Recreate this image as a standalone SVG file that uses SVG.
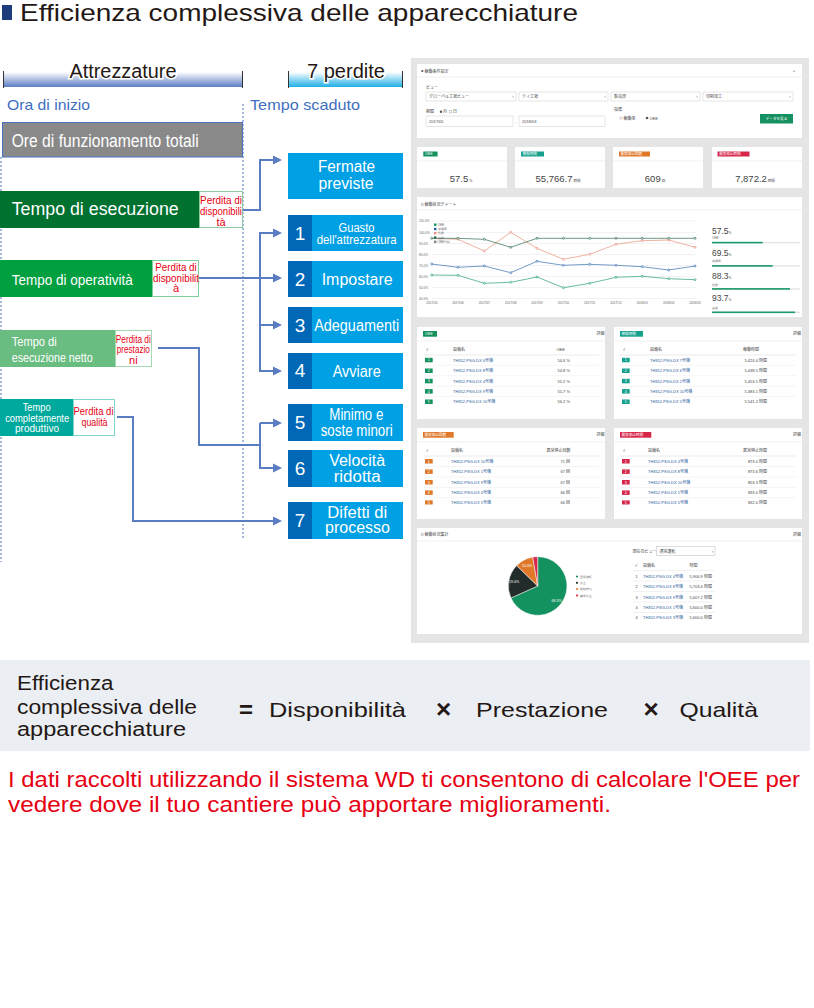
<svg xmlns="http://www.w3.org/2000/svg" width="814" height="1008" viewBox="0 0 814 1008">
<defs>
<linearGradient id="gA" x1="0" y1="0" x2="0" y2="1"><stop offset="0" stop-color="#ffffff"/><stop offset="1" stop-color="#5b7cc4"/></linearGradient>
<linearGradient id="gP" x1="0" y1="0" x2="0" y2="1"><stop offset="0" stop-color="#ffffff"/><stop offset="1" stop-color="#1eaee6"/></linearGradient>
<marker id="arr" markerWidth="10" markerHeight="10" refX="1" refY="5" orient="auto" markerUnits="userSpaceOnUse"><path d="M0,0.5 L9,5 L0,9.5 z" fill="#5a7cc0"/></marker>
<clipPath id="clipO"><rect x="417" y="428" width="188" height="76.5"/></clipPath>
<clipPath id="clipR"><rect x="614" y="428" width="188" height="76.5"/></clipPath>
<style>
.f{font-family:"Liberation Sans",Arial,sans-serif}
.w{fill:#ffffff}
.red{fill:#e60012}
.lb{font-family:"Liberation Sans",Arial,sans-serif;fill:#ffffff;text-anchor:middle}
.pl{font-family:"Liberation Sans",Arial,sans-serif;fill:#e60012;text-anchor:middle;font-size:11px}
.con{fill:none;stroke:#5a7cc0;stroke-width:2}
.dash{stroke:#4a72c0;stroke-width:1;stroke-dasharray:2,2;fill:none}
.lossA{fill:#00a0e4}
.lossN{fill:#0068b7}
.d{font-family:"Liberation Sans","Noto Sans CJK JP",sans-serif;font-size:4px;fill:#444}
.dn{font-family:"Liberation Sans","Noto Sans CJK JP",sans-serif;font-size:4px;fill:#2a5a9a}
.card{fill:#ffffff}
.sep{stroke:#e6e6e6;stroke-width:0.6}
.bw{font-family:"Liberation Sans","Noto Sans CJK JP",sans-serif;font-size:3.6px;fill:#ffffff}
.grid{stroke:#e4e4e4;stroke-width:0.5}
.ax{font-family:"Liberation Sans",sans-serif;font-size:3.2px;fill:#666}
</style>
</defs>
<rect width="814" height="1008" fill="#ffffff"/>

<g id="title">
<rect x="2" y="5" width="10" height="15" fill="#1d3c7c"/>
<text class="f" x="20" y="21" font-size="24" fill="#231815" textLength="558" lengthAdjust="spacingAndGlyphs">Efficienza complessiva delle apparecchiature</text>
</g>

<g id="header-attrezzature">
<rect x="3" y="72" width="240" height="15" fill="url(#gA)"/>
<path d="M3.5,71 V88 M242.5,71 V88" stroke="#333" stroke-width="1"/>
<text class="f" x="123" y="78" font-size="20" text-anchor="middle" fill="#231815" stroke="#ffffff" stroke-width="3" paint-order="stroke" textLength="107" lengthAdjust="spacingAndGlyphs">Attrezzature</text>
</g>
<g id="header-perdite">
<rect x="288" y="72" width="115" height="15" fill="url(#gP)"/>
<path d="M288.5,71 V88 M402.5,71 V88" stroke="#333" stroke-width="1"/>
<text class="f" x="346" y="78" font-size="20" text-anchor="middle" fill="#231815" stroke="#ffffff" stroke-width="3" paint-order="stroke" textLength="78" lengthAdjust="spacingAndGlyphs">7 perdite</text>
</g>

<g id="time-labels">
<text class="f" x="7" y="110" font-size="15" fill="#3f6fbf" textLength="83" lengthAdjust="spacingAndGlyphs">Ora di inizio</text>
<text class="f" x="250" y="110" font-size="15" fill="#3f6fbf" textLength="110" lengthAdjust="spacingAndGlyphs">Tempo scaduto</text>
<path class="dash" d="M243,104 V540"/>
<path class="dash" d="M1,157 V562"/>
</g>

<g id="ore-totali">
<rect x="2.5" y="122.5" width="240" height="34.5" fill="#898989" stroke="#4a72c0" stroke-width="1"/>
<text class="f w" x="11.7" y="146.5" font-size="18" textLength="187" lengthAdjust="spacingAndGlyphs">Ore di funzionamento totali</text>
</g>

<g id="tempo-esecuzione">
<rect x="0" y="191" width="199" height="37" fill="#00712f"/>
<text class="f w" x="11.7" y="215" font-size="18" textLength="167" lengthAdjust="spacingAndGlyphs">Tempo di esecuzione</text>
<rect x="199.5" y="191.5" width="43" height="36" fill="#ffffff" stroke="#8fc9a0" stroke-width="1"/>
<text class="pl" x="221" y="203.5" textLength="42" lengthAdjust="spacingAndGlyphs">Perdita di</text>
<text class="pl" x="221" y="214.5" textLength="42" lengthAdjust="spacingAndGlyphs">disponibili</text>
<text class="pl" x="221" y="225.5">tà</text>
</g>

<g id="tempo-operativita">
<rect x="0" y="260" width="152" height="37" fill="#00a040"/>
<text class="f w" x="11.7" y="284.5" font-size="15" textLength="121" lengthAdjust="spacingAndGlyphs">Tempo di operatività</text>
<rect x="152.5" y="260.5" width="46" height="36" fill="#ffffff" stroke="#7fcf9a" stroke-width="1"/>
<text class="pl" x="176" y="270.5" textLength="41.5" lengthAdjust="spacingAndGlyphs">Perdita di</text>
<text class="pl" x="176" y="281.5" textLength="46" lengthAdjust="spacingAndGlyphs">disponibilit</text>
<text class="pl" x="176" y="292">à</text>
</g>

<g id="tempo-netto">
<rect x="0" y="330" width="115" height="37" fill="#6abd80"/>
<text class="f w" x="11.7" y="345.5" font-size="13" textLength="45" lengthAdjust="spacingAndGlyphs">Tempo di</text>
<text class="f w" x="11.7" y="361.5" font-size="13" textLength="81" lengthAdjust="spacingAndGlyphs">esecuzione netto</text>
<rect x="115.5" y="330.5" width="36" height="36" fill="#ffffff" stroke="#a5d8b2" stroke-width="1"/>
<text class="pl" x="133.3" y="342.5" textLength="35" lengthAdjust="spacingAndGlyphs">Perdita di</text>
<text class="pl" x="133.3" y="353.3" textLength="33" lengthAdjust="spacingAndGlyphs">prestazio</text>
<text class="pl" x="133.3" y="363.5">ni</text>
</g>

<g id="tempo-produttivo">
<rect x="0" y="399" width="73" height="37" fill="#00a99d"/>
<text class="lb" x="36.7" y="411" font-size="11" textLength="28" lengthAdjust="spacingAndGlyphs">Tempo</text>
<text class="lb" x="37.2" y="421.7" font-size="11" textLength="64" lengthAdjust="spacingAndGlyphs">completamente</text>
<text class="lb" x="37" y="432.3" font-size="11" textLength="44" lengthAdjust="spacingAndGlyphs">produttivo</text>
<rect x="73.5" y="399.5" width="41" height="36" fill="#ffffff" stroke="#7fd4ce" stroke-width="1"/>
<text class="pl" x="93.5" y="415" font-size="12" textLength="40" lengthAdjust="spacingAndGlyphs">Perdita di</text>
<text class="pl" x="94.5" y="426" font-size="12" textLength="26" lengthAdjust="spacingAndGlyphs">qualità</text>
</g>

<g id="loss-fermate">
<rect class="lossA" x="288" y="153" width="115" height="46"/>
<text class="lb" x="346.5" y="172" font-size="16" textLength="57" lengthAdjust="spacingAndGlyphs">Fermate</text>
<text class="lb" x="346" y="188.5" font-size="16" textLength="55" lengthAdjust="spacingAndGlyphs">previste</text>
</g>
<g id="loss-1">
<rect class="lossA" x="288" y="215" width="115" height="36"/>
<rect class="lossN" x="288" y="215" width="24" height="36"/>
<text class="lb" x="300" y="240" font-size="19">1</text>
<text class="lb" x="356.5" y="231.5" font-size="12.5" textLength="36" lengthAdjust="spacingAndGlyphs">Guasto</text>
<text class="lb" x="356.7" y="244.3" font-size="12.5" textLength="80" lengthAdjust="spacingAndGlyphs">dell'attrezzatura</text>
</g>
<g id="loss-2">
<rect class="lossA" x="288" y="261" width="115" height="36"/>
<rect class="lossN" x="288" y="261" width="24" height="36"/>
<text class="lb" x="300" y="285.5" font-size="19">2</text>
<text class="lb" x="357.2" y="285" font-size="16" textLength="71" lengthAdjust="spacingAndGlyphs">Impostare</text>
</g>
<g id="loss-3">
<rect class="lossA" x="288" y="307" width="115" height="36"/>
<rect class="lossN" x="288" y="307" width="24" height="36"/>
<text class="lb" x="300" y="331.5" font-size="19">3</text>
<text class="lb" x="356.7" y="331" font-size="16" textLength="85" lengthAdjust="spacingAndGlyphs">Adeguamenti</text>
</g>
<g id="loss-4">
<rect class="lossA" x="288" y="353" width="115" height="36"/>
<rect class="lossN" x="288" y="353" width="24" height="36"/>
<text class="lb" x="300" y="377" font-size="19">4</text>
<text class="lb" x="356.7" y="377" font-size="16" textLength="48" lengthAdjust="spacingAndGlyphs">Avviare</text>
</g>
<g id="loss-5">
<rect class="lossA" x="288" y="404" width="115" height="37"/>
<rect class="lossN" x="288" y="404" width="24" height="37"/>
<text class="lb" x="300" y="429" font-size="19">5</text>
<text class="lb" x="356.3" y="420" font-size="16" textLength="54" lengthAdjust="spacingAndGlyphs">Minimo e</text>
<text class="lb" x="356.7" y="435.7" font-size="16" textLength="72" lengthAdjust="spacingAndGlyphs">soste minori</text>
</g>
<g id="loss-6">
<rect class="lossA" x="288" y="450" width="115" height="37"/>
<rect class="lossN" x="288" y="450" width="24" height="37"/>
<text class="lb" x="300" y="475" font-size="19">6</text>
<text class="lb" x="357.2" y="466" font-size="16" textLength="56" lengthAdjust="spacingAndGlyphs">Velocità</text>
<text class="lb" x="357.2" y="481.7" font-size="16" textLength="47" lengthAdjust="spacingAndGlyphs">ridotta</text>
</g>
<g id="loss-7">
<rect class="lossA" x="288" y="502" width="115" height="37"/>
<rect class="lossN" x="288" y="502" width="24" height="37"/>
<text class="lb" x="300" y="527" font-size="19">7</text>
<text class="lb" x="357.3" y="518.3" font-size="16" textLength="60" lengthAdjust="spacingAndGlyphs">Difetti di</text>
<text class="lb" x="357.5" y="533.3" font-size="16" textLength="65" lengthAdjust="spacingAndGlyphs">processo</text>
</g>

<g id="connectors">
<path class="con" d="M243,210 H260 V160 H274" marker-end="url(#arr)"/>
<path class="con" d="M199,278 H274" marker-end="url(#arr)"/>
<path class="con" d="M274,233 H260 V371 H274" marker-end="url(#arr)"/>
<path class="con" d="M260,233 H274" marker-end="url(#arr)"/>
<path class="con" d="M260,325 H274" marker-end="url(#arr)"/>
<path class="con" d="M158,348 H199 V445 H260"/>
<path class="con" d="M260,423 V468 H274" marker-end="url(#arr)"/>
<path class="con" d="M260,423 H274" marker-end="url(#arr)"/>
<path class="con" d="M117,417 H133 V521 H274" marker-end="url(#arr)"/>
</g>

<g id="dashboard">
<rect x="411" y="58" width="398" height="585" fill="#e5e5e5"/>
<rect class="card" x="417" y="64" width="385" height="74"/>
<circle cx="422.3" cy="71" r="1.1" fill="#555"/>
<text class="d" x="424.5" y="72.5" font-size="3.8">稼働条件設定</text>
<text class="d" x="793" y="72.5" font-size="3.8">^</text>
<line class="sep" x1="417" y1="77" x2="802" y2="77"/>
<text class="d" x="426" y="88.5" font-size="3.6">ビュー</text>
<g fill="#ffffff" stroke="#cccccc" stroke-width="0.5">
<rect x="426" y="92" width="90" height="9"/><rect x="519" y="92" width="89" height="9"/><rect x="611" y="92" width="89" height="9"/><rect x="703" y="92" width="90" height="9"/>
<rect x="426" y="116" width="87" height="10.5"/><rect x="519" y="116" width="86" height="10.5"/>
</g>
<text class="d" x="429" y="98">グローバル工場ビュー</text>
<text class="d" x="522" y="98">テイ工場</text>
<text class="d" x="614" y="98">製造部</text>
<text class="d" x="706" y="98">切削加工</text>
<text class="d" x="512" y="98">↕</text><text class="d" x="604" y="98">↕</text><text class="d" x="696" y="98">↕</text><text class="d" x="789" y="98">↕</text>
<text class="d" x="426" y="113" font-size="3.6">期間</text>
<circle cx="441" cy="111.8" r="1.2" fill="#555"/><text class="d" x="443" y="113" font-size="3.6">月</text>
<rect x="449.5" y="110.6" width="2.4" height="2.4" fill="none" stroke="#777" stroke-width="0.3"/><text class="d" x="453" y="113" font-size="3.6">日</text>
<text class="d" x="429" y="123">2017/05</text>
<text class="d" x="515" y="123">-</text>
<text class="d" x="522" y="123">2018/03</text>
<text class="d" x="614" y="110.5" font-size="3.6">指標</text>
<circle cx="621" cy="118" r="1.3" fill="none" stroke="#777" stroke-width="0.3"/><text class="d" x="623.5" y="119.5" font-size="3.6">稼働率</text>
<circle cx="647" cy="118" r="1.3" fill="#555"/><text class="d" x="649.5" y="119.5" font-size="3.6">OEE</text>
<rect x="760" y="114" width="33" height="9.5" fill="#159060"/>
<text class="bw" x="776.5" y="120" text-anchor="middle">データを見る</text>

<rect class="card" x="417" y="147" width="90" height="41"/>
<rect class="card" x="515" y="147" width="90" height="41"/>
<rect class="card" x="613" y="147" width="90" height="41"/>
<rect class="card" x="712" y="147" width="90" height="41"/>
<rect x="423.3" y="151.5" width="14.3" height="5" fill="#13925f"/><text class="bw" x="425" y="155.3">OEE</text>
<rect x="521" y="151.5" width="23" height="5" fill="#16a08e"/><text class="bw" x="522.5" y="155.3">稼働時間</text>
<rect x="619" y="151.5" width="31" height="5" fill="#e0782a"/><text class="bw" x="620.5" y="155.3">異常停止回数</text>
<rect x="717.5" y="151.5" width="32" height="5" fill="#d6264a"/><text class="bw" x="719" y="155.3">異常停止時間</text>
<line class="sep" x1="417" y1="161" x2="507" y2="161"/><line class="sep" x1="515" y1="161" x2="605" y2="161"/><line class="sep" x1="613" y1="161" x2="703" y2="161"/><line class="sep" x1="712" y1="161" x2="802" y2="161"/>
<g font-family="Liberation Sans, Noto Sans CJK JP, sans-serif" fill="#444" text-anchor="middle">
<text x="461" y="181.5" font-size="9.5">57.5<tspan font-size="3.5"> %</tspan></text>
<text x="558" y="181.5" font-size="9.5">55,766.7<tspan font-size="3.5"> 時間</tspan></text>
<text x="655" y="181.5" font-size="9.5">609<tspan font-size="3.5"> 回</tspan></text>
<text x="755" y="181.5" font-size="9.5">7,872.2<tspan font-size="3.5"> 時間</tspan></text>
</g>

<rect class="card" x="417" y="197" width="385" height="120"/>
<circle cx="422.3" cy="204.5" r="1.1" fill="none" stroke="#555" stroke-width="0.4"/>
<text class="d" x="424.5" y="206" font-size="3.8">稼働状況チャート</text>
<line class="sep" x1="417" y1="210" x2="802" y2="210"/>
<g>
<line class="grid" x1="432" y1="221" x2="696" y2="221"/><line class="grid" x1="432" y1="232.5" x2="696" y2="232.5"/><line class="grid" x1="432" y1="243.5" x2="696" y2="243.5"/><line class="grid" x1="432" y1="254.5" x2="696" y2="254.5"/><line class="grid" x1="432" y1="265.5" x2="696" y2="265.5"/><line class="grid" x1="432" y1="276.5" x2="696" y2="276.5"/><line class="grid" x1="432" y1="287.5" x2="696" y2="287.5"/><line class="grid" x1="432" y1="298.5" x2="696" y2="298.5"/>
</g>
<g class="ax">
<text x="419" y="222">110.0%</text><text x="419" y="233.5">100.0%</text><text x="419" y="244.5">90.0%</text><text x="419" y="255.5">80.0%</text><text x="419" y="266.5">70.0%</text><text x="419" y="277.5">60.0%</text><text x="419" y="288.5">50.0%</text><text x="419" y="299.5">40.0%</text>
</g>
<g class="ax" text-anchor="middle">
<text x="432" y="303.5">2017/05</text><text x="458" y="303.5">2017/06</text><text x="484.4" y="303.5">2017/07</text><text x="510.7" y="303.5">2017/08</text><text x="537" y="303.5">2017/09</text><text x="563.4" y="303.5">2017/10</text><text x="589.7" y="303.5">2017/11</text><text x="616" y="303.5">2017/12</text><text x="642.3" y="303.5">2018/01</text><text x="668.7" y="303.5">2018/02</text><text x="695" y="303.5">2018/03</text>
</g>
<g fill="#ffffff" stroke-width="0.7">
<polyline fill="none" stroke="#e8907a" points="431.7,238.3 458,239.3 484.4,251 510.7,232.3 537,248.3 563.4,259.3 589.7,254.3 616,244.3 642.3,240.7 668.7,240 695,247.3"/>
<polyline fill="none" stroke="#2e6e52" points="431.7,238.3 458,238.3 484.4,239.3 510.7,247.3 537,238.3 563.4,238.3 589.7,238.3 616,238.3 642.3,238.3 668.7,238.3 695,238.3"/>
<polyline fill="none" stroke="#3a70b0" points="431.7,264 458,267.3 484.4,266 510.7,272.7 537,261.3 563.4,265.3 589.7,264.3 616,265.3 642.3,266.7 668.7,270 695,266"/>
<polyline fill="none" stroke="#2aa070" points="431.7,275 458,275.3 484.4,283.3 510.7,282.3 537,277 563.4,287.7 589.7,283.3 616,277.3 642.3,276.3 668.7,278.7 695,279.7"/>
<g stroke="#e8907a"><circle cx="458" cy="239.3" r="1"/><circle cx="484.4" cy="251" r="1"/><circle cx="510.7" cy="232.3" r="1"/><circle cx="537" cy="248.3" r="1"/><circle cx="563.4" cy="259.3" r="1"/><circle cx="589.7" cy="254.3" r="1"/><circle cx="616" cy="244.3" r="1"/><circle cx="642.3" cy="240.7" r="1"/><circle cx="668.7" cy="240" r="1"/><circle cx="695" cy="247.3" r="1"/></g>
<g stroke="#2e6e52"><circle cx="431.7" cy="238.3" r="1"/><circle cx="458" cy="238.3" r="1"/><circle cx="484.4" cy="239.3" r="1"/><circle cx="510.7" cy="247.3" r="1"/><circle cx="537" cy="238.3" r="1"/><circle cx="563.4" cy="238.3" r="1"/><circle cx="589.7" cy="238.3" r="1"/><circle cx="616" cy="238.3" r="1"/><circle cx="642.3" cy="238.3" r="1"/><circle cx="668.7" cy="238.3" r="1"/><circle cx="695" cy="238.3" r="1"/></g>
<g stroke="#3a70b0"><circle cx="431.7" cy="264" r="1"/><circle cx="458" cy="267.3" r="1"/><circle cx="484.4" cy="266" r="1"/><circle cx="510.7" cy="272.7" r="1"/><circle cx="537" cy="261.3" r="1"/><circle cx="563.4" cy="265.3" r="1"/><circle cx="589.7" cy="264.3" r="1"/><circle cx="616" cy="265.3" r="1"/><circle cx="642.3" cy="266.7" r="1"/><circle cx="668.7" cy="270" r="1"/><circle cx="695" cy="266" r="1"/></g>
<g stroke="#2aa070"><circle cx="431.7" cy="275" r="1"/><circle cx="458" cy="275.3" r="1"/><circle cx="484.4" cy="283.3" r="1"/><circle cx="510.7" cy="282.3" r="1"/><circle cx="537" cy="277" r="1"/><circle cx="563.4" cy="287.7" r="1"/><circle cx="589.7" cy="283.3" r="1"/><circle cx="616" cy="277.3" r="1"/><circle cx="642.3" cy="276.3" r="1"/><circle cx="668.7" cy="278.7" r="1"/><circle cx="695" cy="279.7" r="1"/></g>
</g>
<g>
<rect x="434" y="223.5" width="2.4" height="2.4" fill="#13925f"/><text class="ax" x="437.5" y="225.8">OEE</text>
<rect x="434" y="227.8" width="2.4" height="2.4" fill="#2a60b0"/><text class="ax" x="437.5" y="230.1">稼働率</text>
<rect x="434" y="232" width="2.4" height="2.4" fill="#e8907a"/><text class="ax" x="437.5" y="234.3">性能</text>
<rect x="434" y="236.3" width="2.4" height="2.4" fill="#2e6e52"/><text class="ax" x="437.5" y="238.6">品質</text>
<rect x="434" y="240.6" width="2.4" height="2.4" fill="#888888"/><text class="ax" x="437.5" y="242.9">OEE目標</text>
</g>
<g font-family="Liberation Sans, Noto Sans CJK JP, sans-serif" fill="#444">
<text x="712" y="234.3" font-size="8.5">57.5<tspan font-size="3.2">%</tspan></text>
<text class="ax" x="712" y="239">OEE</text>
<text x="712" y="256.3" font-size="8.5">69.5<tspan font-size="3.2">%</tspan></text>
<text class="ax" x="712" y="262">稼働率</text>
<text x="712" y="278.5" font-size="8.5">88.3<tspan font-size="3.2">%</tspan></text>
<text class="ax" x="712" y="285.5">性能</text>
<text x="712" y="301" font-size="8.5">93.7<tspan font-size="3.2">%</tspan></text>
<text class="ax" x="712" y="308.7">品質</text>
</g>
<g>
<rect x="712" y="242" width="88" height="1.3" fill="#e2e2e2"/><rect x="712" y="241.8" width="50.7" height="1.6" fill="#1a9a68"/>
<rect x="712" y="265.3" width="88" height="1.3" fill="#e2e2e2"/><rect x="712" y="265.1" width="60.7" height="1.6" fill="#1a9a68"/>
<rect x="712" y="288.3" width="88" height="1.3" fill="#e2e2e2"/><rect x="712" y="288.1" width="78" height="1.6" fill="#1a9a68"/>
<rect x="712" y="311.7" width="88" height="1.3" fill="#e2e2e2"/><rect x="712" y="311.5" width="83" height="1.6" fill="#1a9a68"/>
</g>

<rect class="card" x="417" y="327" width="188" height="92"/>
<rect class="card" x="614" y="327" width="188" height="92"/>
<rect class="card" x="417" y="428" width="188" height="91"/>
<rect class="card" x="614" y="428" width="188" height="91"/>

<g id="tbl-oee">
<rect x="423" y="331" width="14" height="5.7" fill="#13925f"/><text class="bw" x="425" y="335.2">OEE</text>
<text class="d" x="596.5" y="335" font-size="3.6">詳細</text>
<line class="sep" x1="417" y1="341" x2="605" y2="341"/>
<text class="d" x="426" y="350.7" font-size="3.6">#</text><text class="d" x="453" y="350.7" font-size="3.6">設備名</text><text class="d" x="556.5" y="350.7" font-size="3.6">OEE</text>
<line x1="423" y1="355" x2="599" y2="355" stroke="#dddddd" stroke-width="0.6"/>
<g fill="#13925f"><rect x="425" y="357.8" width="7.7" height="4.5"/><rect x="425" y="368.5" width="7.7" height="4.5"/><rect x="425" y="378.8" width="7.7" height="4.5"/><rect x="425" y="389.1" width="7.7" height="4.5"/><rect x="425" y="399.5" width="7.7" height="4.5"/></g>
<g class="bw" text-anchor="middle" font-size="3.2"><text x="428.8" y="361.3">1</text><text x="428.8" y="372">2</text><text x="428.8" y="382.3">3</text><text x="428.8" y="392.6">4</text><text x="428.8" y="403">5</text></g>
<g stroke="#eeeeee" stroke-width="0.6"><line x1="423" y1="365.3" x2="599" y2="365.3"/><line x1="423" y1="375.7" x2="599" y2="375.7"/><line x1="423" y1="386.2" x2="599" y2="386.2"/><line x1="423" y1="396.6" x2="599" y2="396.6"/></g>
<text class="dn" x="453" y="361.5">TH352-PSG-DX 6号機</text><text class="dn" x="453" y="372.2">TH352-PSG-DX 8号機</text><text class="dn" x="453" y="382.5">TH352-PSG-DX 4号機</text><text class="dn" x="453" y="392.8">TH352-PSG-DX 9号機</text><text class="dn" x="453" y="403.2">TH352-PSG-DX 10号機</text>
<g class="d" text-anchor="end"><text x="570" y="361.5">54.6 %</text><text x="570" y="372.2">54.8 %</text><text x="570" y="382.5">55.2 %</text><text x="570" y="392.8">55.7 %</text><text x="570" y="403.2">56.2 %</text></g>
</g>

<g id="tbl-time">
<rect x="620" y="331" width="23" height="5.7" fill="#16a08e"/><text class="bw" x="621.5" y="335.2">稼働時間</text>
<text class="d" x="793" y="335" font-size="3.6">詳細</text>
<line class="sep" x1="614" y1="341" x2="802" y2="341"/>
<text class="d" x="623" y="350.7" font-size="3.6">#</text><text class="d" x="650" y="350.7" font-size="3.6">設備名</text><text class="d" x="743" y="350.7" font-size="3.6">稼働時間</text>
<line x1="620" y1="355" x2="796" y2="355" stroke="#dddddd" stroke-width="0.6"/>
<g fill="#16a08e"><rect x="622" y="357.8" width="7.7" height="4.5"/><rect x="622" y="368.5" width="7.7" height="4.5"/><rect x="622" y="378.8" width="7.7" height="4.5"/><rect x="622" y="389.1" width="7.7" height="4.5"/><rect x="622" y="399.5" width="7.7" height="4.5"/></g>
<g class="bw" text-anchor="middle" font-size="3.2"><text x="625.8" y="361.3">1</text><text x="625.8" y="372">2</text><text x="625.8" y="382.3">3</text><text x="625.8" y="392.6">4</text><text x="625.8" y="403">5</text></g>
<g stroke="#eeeeee" stroke-width="0.6"><line x1="620" y1="365.3" x2="796" y2="365.3"/><line x1="620" y1="375.7" x2="796" y2="375.7"/><line x1="620" y1="386.2" x2="796" y2="386.2"/><line x1="620" y1="396.6" x2="796" y2="396.6"/></g>
<text class="dn" x="650" y="361.5">TH352-PSG-DX 7号機</text><text class="dn" x="650" y="372.2">TH352-PSG-DX 6号機</text><text class="dn" x="650" y="382.5">TH352-PSG-DX 2号機</text><text class="dn" x="650" y="392.8">TH352-PSG-DX 10号機</text><text class="dn" x="650" y="403.2">TH352-PSG-DX 5号機</text>
<g class="d" text-anchor="end"><text x="767" y="361.5">5,424.4 時間</text><text x="767" y="372.2">5,438.5 時間</text><text x="767" y="382.5">5,453.5 時間</text><text x="767" y="392.8">5,483.1 時間</text><text x="767" y="403.2">5,541.2 時間</text></g>
</g>

<g id="tbl-count">
<rect x="423" y="432" width="30.7" height="5.7" fill="#e0782a"/><text class="bw" x="424.5" y="436.2">異常停止回数</text>
<text class="d" x="596.5" y="436" font-size="3.6">詳細</text>
<line class="sep" x1="417" y1="442" x2="605" y2="442"/>
<g clip-path="url(#clipO)">
<text class="d" x="426" y="451.5" font-size="3.6">#</text><text class="d" x="451" y="451.5" font-size="3.6">設備名</text><text class="d" x="546.5" y="451.5" font-size="3.6">異常停止回数</text>
<line x1="423" y1="456" x2="599" y2="456" stroke="#dddddd" stroke-width="0.6"/>
<g fill="#e0782a"><rect x="425" y="459" width="7.7" height="4.5"/><rect x="425" y="469.4" width="7.7" height="4.5"/><rect x="425" y="480" width="7.7" height="4.5"/><rect x="425" y="490.4" width="7.7" height="4.5"/><rect x="425" y="500.4" width="7.7" height="4.5"/></g>
<g class="bw" text-anchor="middle" font-size="3.2"><text x="428.8" y="462.5">1</text><text x="428.8" y="472.9">2</text><text x="428.8" y="483.5">3</text><text x="428.8" y="493.9">4</text><text x="428.8" y="503.9">5</text></g>
<g stroke="#eeeeee" stroke-width="0.6"><line x1="423" y1="466.5" x2="599" y2="466.5"/><line x1="423" y1="477" x2="599" y2="477"/><line x1="423" y1="487.5" x2="599" y2="487.5"/><line x1="423" y1="497.7" x2="599" y2="497.7"/></g>
<text class="dn" x="451" y="462.8">TH352-PSG-DX 10号機</text><text class="dn" x="451" y="473.2">TH352-PSG-DX 1号機</text><text class="dn" x="451" y="483.8">TH352-PSG-DX 9号機</text><text class="dn" x="451" y="494.2">TH352-PSG-DX 4号機</text><text class="dn" x="451" y="504.2">TH352-PSG-DX 5号機</text>
<g class="d" text-anchor="end"><text x="570" y="462.8">71 回</text><text x="570" y="473.2">67 回</text><text x="570" y="483.8">67 回</text><text x="570" y="494.2">66 回</text><text x="570" y="504.2">66 回</text></g>
</g>
</g>

<g id="tbl-stoptime">
<rect x="620" y="432" width="31.3" height="5.7" fill="#d6264a"/><text class="bw" x="621.5" y="436.2">異常停止時間</text>
<text class="d" x="793" y="436" font-size="3.6">詳細</text>
<line class="sep" x1="614" y1="442" x2="802" y2="442"/>
<g clip-path="url(#clipR)">
<text class="d" x="623" y="451.5" font-size="3.6">#</text><text class="d" x="648" y="451.5" font-size="3.6">設備名</text><text class="d" x="743" y="451.5" font-size="3.6">異常停止時間</text>
<line x1="620" y1="456" x2="796" y2="456" stroke="#dddddd" stroke-width="0.6"/>
<g fill="#d6264a"><rect x="622" y="459" width="7.7" height="4.5"/><rect x="622" y="469.4" width="7.7" height="4.5"/><rect x="622" y="480" width="7.7" height="4.5"/><rect x="622" y="490.4" width="7.7" height="4.5"/><rect x="622" y="500.4" width="7.7" height="4.5"/></g>
<g class="bw" text-anchor="middle" font-size="3.2"><text x="625.8" y="462.5">1</text><text x="625.8" y="472.9">2</text><text x="625.8" y="483.5">3</text><text x="625.8" y="493.9">4</text><text x="625.8" y="503.9">5</text></g>
<g stroke="#eeeeee" stroke-width="0.6"><line x1="620" y1="466.5" x2="796" y2="466.5"/><line x1="620" y1="477" x2="796" y2="477"/><line x1="620" y1="487.5" x2="796" y2="487.5"/><line x1="620" y1="497.7" x2="796" y2="497.7"/></g>
<text class="dn" x="648" y="462.8">TH352-PSG-DX 4号機</text><text class="dn" x="648" y="473.2">TH352-PSG-DX 8号機</text><text class="dn" x="648" y="483.8">TH352-PSG-DX 10号機</text><text class="dn" x="648" y="494.2">TH352-PSG-DX 1号機</text><text class="dn" x="648" y="504.2">TH352-PSG-DX 5号機</text>
<g class="d" text-anchor="end"><text x="767" y="462.8">873.0 時間</text><text x="767" y="473.2">873.6 時間</text><text x="767" y="483.8">853.3 時間</text><text x="767" y="494.2">833.0 時間</text><text x="767" y="504.2">832.0 時間</text></g>
</g>
</g>

<rect class="card" x="417" y="528" width="385" height="106"/>
<circle cx="422.3" cy="534.5" r="1.1" fill="none" stroke="#555" stroke-width="0.4"/>
<text class="d" x="424.5" y="536" font-size="3.8">稼働状況集計</text>
<text class="d" x="793" y="536" font-size="3.6">詳細</text>
<line class="sep" x1="417" y1="541" x2="802" y2="541"/>
<g stroke="#ffffff" stroke-width="0.5">
<path d="M537.7,586 L537.7,556.7 A29.3,29.3 0 1 1 510.95,597.96 Z" fill="#13925f"/>
<path d="M537.7,586 L510.95,597.96 A29.3,29.3 0 0 1 516.73,565.54 Z" fill="#222d2b"/>
<path d="M537.7,586 L516.73,565.54 A29.3,29.3 0 0 1 532.76,557.12 Z" fill="#e0782a"/>
<path d="M537.7,586 L532.76,557.12 A29.3,29.3 0 0 1 537.7,556.7 Z" fill="#d6264a"/>
</g>
<g class="bw" text-anchor="middle" font-size="3.4"><text x="556.7" y="602">68.3%</text><text x="514" y="582.5">19.0%</text><text x="527" y="566.5">10.0%</text></g>
<g>
<circle cx="577" cy="576.5" r="1.1" fill="#13925f"/><text class="ax" x="579.5" y="577.8">通常運転</text>
<circle cx="577" cy="582.8" r="1.1" fill="#222d2b"/><text class="ax" x="579.5" y="584.1">停止</text>
<circle cx="577" cy="589" r="1.1" fill="#e0782a"/><text class="ax" x="579.5" y="590.3">段取待ち</text>
<circle cx="577" cy="595.5" r="1.1" fill="#d6264a"/><text class="ax" x="579.5" y="596.8">異常停止</text>
</g>
<text class="d" x="632.5" y="552.5" font-size="3.6">現在のビュー:</text>
<rect x="656.7" y="546.7" width="58.3" height="9" fill="#ffffff" stroke="#bbbbbb" stroke-width="0.5"/>
<text class="d" x="659.5" y="552.5" font-size="3.8">通常運転</text><text class="d" x="711.5" y="552.5" font-size="3.6">↕</text>
<text class="d" x="635" y="567" font-size="3.6">#</text><text class="d" x="643" y="567" font-size="3.6">設備名</text><text class="d" x="689.5" y="567" font-size="3.6">時間</text>
<g stroke="#e8e8e8" stroke-width="0.6"><line x1="633" y1="570.5" x2="715" y2="570.5"/><line x1="633" y1="581" x2="715" y2="581"/><line x1="633" y1="591.5" x2="715" y2="591.5"/><line x1="633" y1="602" x2="715" y2="602"/><line x1="633" y1="612.5" x2="715" y2="612.5"/></g>
<g class="d" font-size="3.6" text-anchor="middle"><text x="636.5" y="577.5">1</text><text x="636.5" y="588">2</text><text x="636.5" y="598.5">3</text><text x="636.5" y="609">4</text><text x="636.5" y="619">4</text></g>
<g class="dn" font-size="3.6"><text x="643" y="577.5">TH352-PSG-DX 4号機</text><text x="643" y="588">TH352-PSG-DX 8号機</text><text x="643" y="598.5">TH352-PSG-DX 9号機</text><text x="643" y="609">TH352-PSG-DX 1号機</text><text x="643" y="619">TH352-PSG-DX 3号機</text></g>
<g class="d" font-size="3.6"><text x="689.5" y="577.5">5,906.9 時間</text><text x="689.5" y="588">5,703.4 時間</text><text x="689.5" y="598.5">5,607.2 時間</text><text x="689.5" y="609">5,600.0 時間</text><text x="689.5" y="619">5,600.0 時間</text></g>
</g>

<g id="formula">
<rect x="0" y="660" width="810" height="91" fill="#ebeef3"/>
<g class="f" fill="#231815" font-size="20">
<text x="17" y="690" textLength="96.5" lengthAdjust="spacingAndGlyphs">Efficienza</text>
<text x="17" y="713.5" textLength="180" lengthAdjust="spacingAndGlyphs">complessiva delle</text>
<text x="17" y="736" textLength="169" lengthAdjust="spacingAndGlyphs">apparecchiature</text>
</g>
<g class="f" fill="#231815" font-size="21">
<text x="246" y="718" text-anchor="middle" font-weight="bold" font-size="24">=</text>
<text x="269" y="717" textLength="137" lengthAdjust="spacingAndGlyphs">Disponibilità</text>
<text x="443.5" y="718" text-anchor="middle" font-weight="bold" font-size="26">×</text>
<text x="476" y="717" textLength="132" lengthAdjust="spacingAndGlyphs">Prestazione</text>
<text x="651" y="718" text-anchor="middle" font-weight="bold" font-size="26">×</text>
<text x="679.5" y="717" textLength="78.5" lengthAdjust="spacingAndGlyphs">Qualità</text>
</g>
</g>

<g id="note" class="f red" font-size="21.5">
<text x="8" y="786.5" textLength="792" lengthAdjust="spacingAndGlyphs">I dati raccolti utilizzando il sistema WD ti consentono di calcolare l'OEE per</text>
<text x="8" y="811.7" textLength="603" lengthAdjust="spacingAndGlyphs">vedere dove il tuo cantiere può apportare miglioramenti.</text>
</g>
</svg>
